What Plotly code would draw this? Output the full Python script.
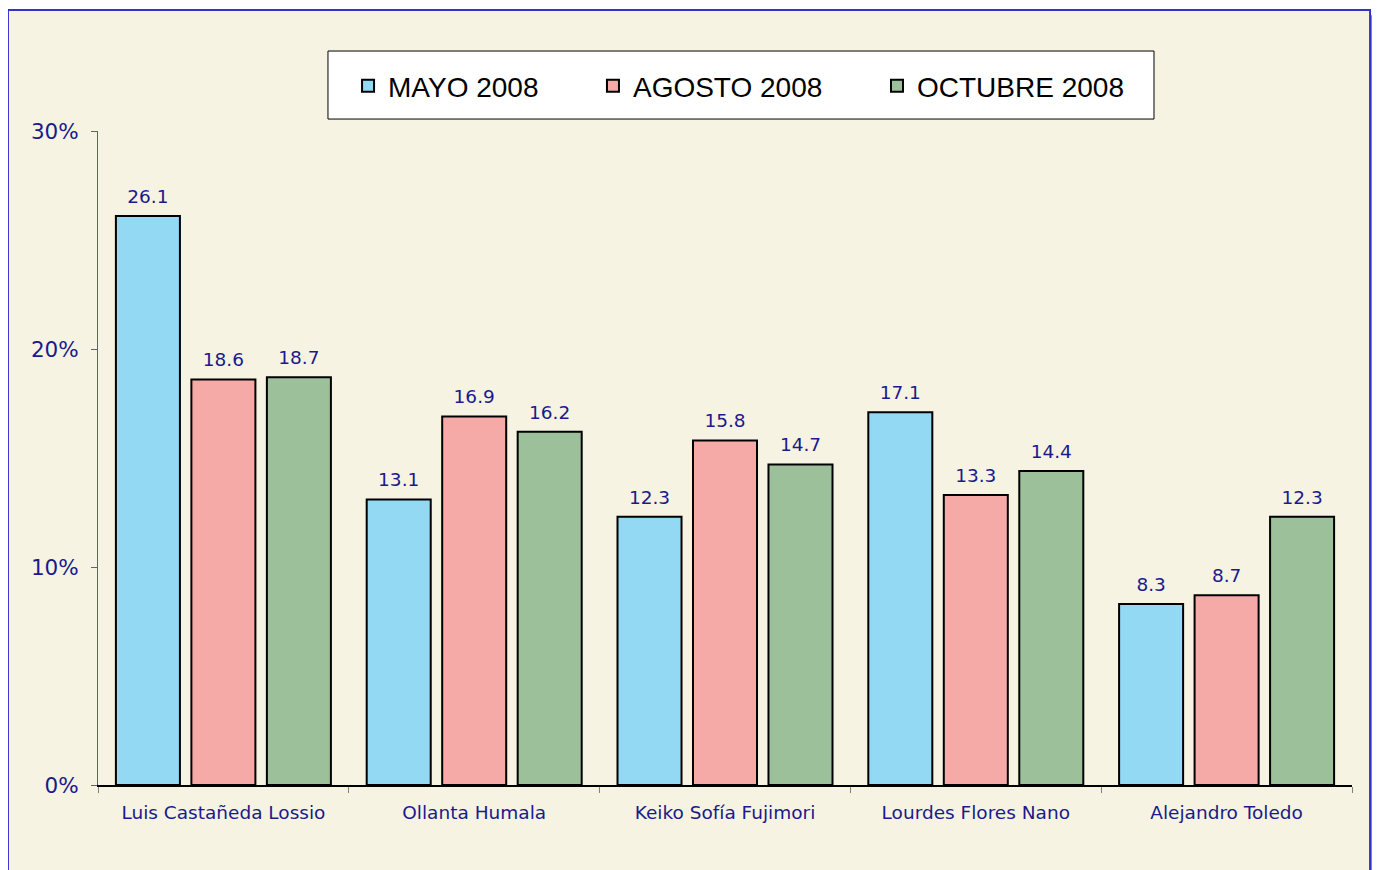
import plotly.graph_objects as go

categories = ["Luis Castañeda Lossio", "Ollanta Humala", "Keiko Sofía Fujimori",
              "Lourdes Flores Nano", "Alejandro Toledo"]
series_names = ["MAYO 2008", "AGOSTO 2008", "OCTUBRE 2008"]
mayo = [26.1, 13.1, 12.3, 17.1, 8.3]
agosto = [18.6, 16.9, 15.8, 13.3, 8.7]
octubre = [18.7, 16.2, 14.7, 14.4, 12.3]
y_ticks = [0, 10, 20, 30]
y_tick_labels = [f"{v}%" for v in y_ticks]

colors = ["#93d9f3", "#f5aaa8", "#9cc09a"]
navy = "#1a1a8c"
cream = "#f6f3e3"
legend_ids = ["legend", "legend2", "legend3"]
legend_x = [0.1994, 0.3947, 0.6212]

fig = go.Figure()
for i, (name, vals, col, lid) in enumerate(zip(series_names, [mayo, agosto, octubre], colors, legend_ids)):
    fig.add_trace(go.Bar(
        x=categories, y=vals, name=name, legend=lid,
        offsetgroup=str(i), alignmentgroup="a",
        marker=dict(color=col, line=dict(color="black", width=2)),
    ))
for i, vals in enumerate([mayo, agosto, octubre]):
    fig.add_trace(go.Scatter(
        x=categories, y=vals, mode="markers+text", showlegend=False,
        offsetgroup=str(i), alignmentgroup="a",
        marker=dict(size=12, opacity=0),
        text=[f"{v:.1f}" for v in vals], textposition="top center",
        textfont=dict(family="DejaVu Sans", size=18.5, color=navy),
        hoverinfo="skip", cliponaxis=False,
    ))

# frame, shadow and legend box (decoration)
fig.add_shape(type="rect", xref="paper", yref="paper", layer="below",
              x0=-0.0718, x1=1.0144, y0=-0.15, y1=1.185,
              fillcolor=cream, line=dict(color="#3333cc", width=2))
fig.add_shape(type="rect", xref="paper", yref="paper", layer="below",
              x0=1.0156, x1=1.0205, y0=-0.15, y1=1.177,
              fillcolor="black", line=dict(width=0))
fig.add_shape(type="rect", xref="paper", yref="paper", layer="below",
              x0=0.1834, x1=0.8421, y0=1.0183, y1=1.1223,
              fillcolor="white", line=dict(color="black", width=1))

legend_style = dict(orientation="h", xanchor="left", y=1.0688, yanchor="middle",
                    bgcolor="rgba(0,0,0,0)", borderwidth=0,
                    font=dict(family="Liberation Sans", size=28, color="black"))
layout_legends = {lid: dict(legend_style, x=lx) for lid, lx in zip(legend_ids, legend_x)}

fig.update_layout(
    width=1380, height=870,
    margin=dict(l=90, r=36, t=123, b=93),
    paper_bgcolor="white", plot_bgcolor=cream,
    barmode="group", bargap=0.097, bargroupgap=0.152,
    scattermode="group", scattergap=0.097,
    showlegend=True,
    xaxis=dict(showline=True, linecolor="black", linewidth=1.5, ticks="outside",
               tickson="boundaries", ticklen=6, tickcolor="#808080", showgrid=False,
               ticklabelstandoff=10,
               tickfont=dict(family="DejaVu Sans", size=18.5, color=navy)),
    yaxis=dict(range=[0, 30], tickmode="array", tickvals=y_ticks, ticktext=y_tick_labels,
               showline=True, linecolor="#5a5aa8", linewidth=1, ticks="outside", ticklen=6,
               tickcolor="#5a5aa8", showgrid=False, zeroline=False,
               ticklabelstandoff=8,
               tickfont=dict(family="DejaVu Sans", size=21.5, color=navy)),
    **layout_legends,
)

fig.write_html("out.html")
